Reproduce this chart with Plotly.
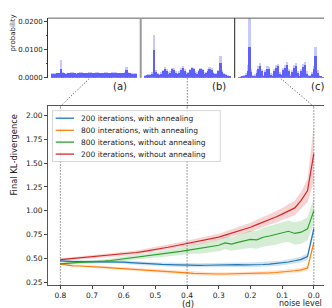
import plotly.graph_objects as go

W, H = 332, 308
def px(x): return x / W
def py(y): return 1 - y / H

FONT = "DejaVu Sans"

# ---------------- data ----------------
noise = [0.80,0.78,0.76,0.74,0.72,0.70,0.68,0.66,0.64,0.62,0.60,0.58,0.56,0.54,0.52,0.50,0.48,0.46,0.44,0.42,
         0.40,0.38,0.36,0.34,0.32,0.30,0.28,0.26,0.24,0.22,0.20,0.18,0.16,0.14,0.12,0.10,0.08,0.06,0.04,0.02,0.00]

blue_mean = [0.473,0.468,0.466,0.466,0.466,0.466,0.465,0.463,0.462,0.461,0.460,0.455,0.450,0.446,0.443,0.440,0.437,0.435,0.432,0.428,
             0.425,0.425,0.426,0.428,0.430,0.432,0.434,0.436,0.434,0.432,0.432,0.434,0.436,0.440,0.446,0.453,0.462,0.475,0.490,0.518,0.810]
blue_spread = [0.012,0.013,0.013,0.014,0.014,0.015,0.015,0.016,0.016,0.017,0.017,0.018,0.018,0.019,0.019,0.020,0.020,0.021,0.021,0.022,
               0.022,0.022,0.023,0.023,0.023,0.024,0.024,0.024,0.024,0.025,0.025,0.025,0.025,0.025,0.026,0.026,0.027,0.028,0.030,0.035,0.050]

orange_mean = [0.440,0.428,0.422,0.420,0.418,0.415,0.410,0.405,0.400,0.395,0.391,0.386,0.382,0.377,0.373,0.370,0.365,0.360,0.355,0.350,
               0.347,0.343,0.340,0.338,0.336,0.336,0.336,0.337,0.338,0.339,0.340,0.342,0.345,0.348,0.352,0.357,0.363,0.370,0.380,0.398,0.666]
orange_spread = [0.012,0.012,0.012,0.013,0.013,0.013,0.014,0.014,0.014,0.015,0.015,0.015,0.016,0.016,0.016,0.017,0.017,0.017,0.018,0.018,
                 0.018,0.018,0.019,0.019,0.019,0.019,0.019,0.019,0.020,0.020,0.020,0.020,0.020,0.020,0.021,0.021,0.022,0.022,0.023,0.025,0.040]

green_mean = [0.443,0.450,0.455,0.458,0.460,0.462,0.466,0.472,0.478,0.486,0.494,0.502,0.510,0.518,0.526,0.535,0.545,0.553,0.562,0.573,
              0.584,0.595,0.600,0.612,0.625,0.638,0.662,0.650,0.668,0.682,0.700,0.695,0.722,0.735,0.752,0.775,0.785,0.762,0.775,0.810,0.999]
green_spread = [0.015,0.015,0.015,0.016,0.016,0.017,0.018,0.019,0.020,0.021,0.022,0.024,0.026,0.028,0.030,0.032,0.034,0.036,0.038,0.040,
                0.042,0.046,0.050,0.054,0.058,0.062,0.066,0.070,0.076,0.082,0.090,0.095,0.100,0.104,0.108,0.110,0.114,0.118,0.120,0.120,0.140]

red_mean = [0.487,0.493,0.498,0.505,0.511,0.518,0.523,0.528,0.533,0.538,0.545,0.553,0.562,0.572,0.582,0.594,0.605,0.617,0.630,0.643,
            0.656,0.668,0.680,0.695,0.708,0.724,0.745,0.765,0.785,0.805,0.827,0.855,0.880,0.910,0.935,0.965,1.000,1.030,1.110,1.210,1.600]
red_spread = [0.015,0.015,0.016,0.016,0.017,0.018,0.018,0.019,0.020,0.020,0.021,0.022,0.022,0.023,0.024,0.025,0.026,0.027,0.028,0.029,
              0.030,0.031,0.032,0.033,0.034,0.035,0.037,0.039,0.041,0.044,0.047,0.050,0.053,0.056,0.060,0.065,0.070,0.078,0.090,0.120,0.300]

series_names = ["200 iterations, with annealing", "800 interations, with annealing",
                "800 iterations, without annealing", "200 iterations, without annealing"]
series_colors = ["#1f77b4", "#ff7f0e", "#2ca02c", "#d62728"]
band_colors = ["rgba(31,119,180,0.2)", "rgba(255,127,14,0.2)", "rgba(44,160,44,0.2)", "rgba(214,39,40,0.2)"]

x_ticks = [0.8, 0.7, 0.6, 0.5, 0.4, 0.3, 0.2, 0.1, 0.0]
x_ticktext = ["0.8", "0.7", "0.6", "0.5", "0.4", "0.3", "0.2", "0.1", "0.0"]
y_ticks = [0.25, 0.50, 0.75, 1.00, 1.25, 1.50, 1.75, 2.00]

# histograms (probability, units of 1e-4), 48 bins per panel
a_dark = [13,14,14,15,16,30,17,15,14,15,16,18,17,15,14,16,18,17,15,15,16,18,17,15,15,17,18,16,15,16,18,17,15,15,17,18,17,15,15,16,16,18,28,17,15,14,14,13]
a_light = [15,16,16,17,18,64,19,17,16,17,18,20,19,17,16,18,20,19,17,17,18,20,19,17,17,19,20,18,17,18,20,19,17,17,19,20,19,17,17,18,18,20,39,19,17,16,16,15]
b_dark = [6,8,9,10,14,99,20,12,10,14,22,32,24,14,18,30,28,18,12,18,28,34,24,14,16,26,33,30,18,14,22,30,26,14,16,24,32,28,16,12,14,22,52,20,12,9,7,5]
b_light = [9,11,12,14,20,152,26,16,14,19,28,38,30,19,23,36,34,23,16,23,34,40,30,19,21,32,39,36,23,19,27,36,32,19,21,30,38,34,21,16,18,28,76,26,16,12,10,7]
c_dark = [1,2,3,5,10,25,110,20,4,6,18,30,42,22,5,20,32,30,10,6,24,34,40,12,8,26,36,44,24,6,20,34,42,16,6,22,38,44,14,4,6,12,30,76,18,6,3,1]
c_light = [2,4,6,9,18,45,215,32,8,12,26,40,52,30,10,28,42,38,16,12,32,44,50,20,14,34,46,54,32,12,28,44,52,24,12,30,48,54,22,8,10,20,42,110,28,10,5,2]
panel_labels = ["(a)", "(b)", "(c)"]
prob_ticks = [0.0, 0.01, 0.02]
prob_ticktext = ["0.0000", "0.0100", "0.0200"]

# ---------------- figure ----------------
fig = go.Figure()

means = [blue_mean, orange_mean, green_mean, red_mean]
spreads = [blue_spread, orange_spread, green_spread, red_spread]
for m, s, bc in zip(means, spreads, band_colors):
    upper = [a + b for a, b in zip(m, s)]
    lower = [a - b for a, b in zip(m, s)]
    fig.add_trace(go.Scatter(x=noise + noise[::-1], y=upper + lower[::-1], fill="toself",
                             fillcolor=bc, line=dict(width=0), mode="lines",
                             hoverinfo="skip", showlegend=False, xaxis="x", yaxis="y"))
for m, c, n in zip(means, series_colors, series_names):
    fig.add_trace(go.Scatter(x=noise, y=m, mode="lines", line=dict(color=c, width=1.2),
                             name=n, showlegend=False, xaxis="x", yaxis="y"))

hists = [(a_light, a_dark), (b_light, b_dark), (c_light, c_dark)]
for i, (lt, dk) in enumerate(hists):
    xa = "x%d" % (i + 2)
    ya = "y%d" % (i + 2)
    bins = list(range(len(lt)))
    fig.add_trace(go.Bar(x=bins, y=[v * 1e-4 for v in lt], marker=dict(color="rgb(200,200,255)", line=dict(width=0)),
                         width=1.0, showlegend=False, xaxis=xa, yaxis=ya))
    fig.add_trace(go.Bar(x=bins, y=[v * 1e-4 for v in dk], marker=dict(color="rgb(95,95,250)", line=dict(width=0)),
                         width=1.0, showlegend=False, xaxis=xa, yaxis=ya))

axis_common = dict(showgrid=False, zeroline=False)
tickfont = dict(family=FONT, size=7.5, color="#222")

layout = dict(
    width=W, height=H, margin=dict(l=0, r=0, t=0, b=0),
    paper_bgcolor="white", plot_bgcolor="rgba(0,0,0,0)",
    showlegend=False, barmode="overlay", bargap=0,
    font=dict(family=FONT, color="#222"),
    xaxis=dict(domain=[px(40), px(318.5)], range=[0.839, -0.040], anchor="y",
               tickvals=x_ticks, ticktext=x_ticktext, ticks="outside", ticklen=2.5, tickwidth=0.8,
               tickcolor="#444", tickfont=tickfont, showline=True, mirror=True,
               linecolor="#555", linewidth=0.8, **axis_common),
    yaxis=dict(domain=[py(281), py(99)], range=[0.216, 2.096], anchor="x",
               tickvals=y_ticks, tickformat=".2f", ticks="outside", ticklen=3, tickwidth=0.8,
               tickcolor="#444", tickfont=tickfont, showline=True, mirror=True,
               linecolor="#555", linewidth=0.8, **axis_common),
)
doms = [(40, 132.7), (133, 226.7), (227, 320)]
for i, (l, r) in enumerate(doms):
    k = i + 2
    layout["xaxis%d" % k] = dict(domain=[px(l), px(r)], range=[-2.3, 49.8], anchor="y%d" % k,
                                 showticklabels=False, ticks="", showline=False, **axis_common)
    yd = dict(domain=[py(70), py(9.3)], range=[0, 0.02105], anchor="x%d" % k, showline=False,
              showticklabels=False, ticks="", **axis_common)
    if i == 0:
        yd.update(showticklabels=True, tickvals=prob_ticks, ticktext=prob_ticktext, ticks="outside",
                  ticklen=3, tickwidth=0.8, tickcolor="#444", tickfont=dict(family=FONT, size=7, color="#222"),
                  showline=True, linecolor="#333", linewidth=0.8,
                  minor=dict(ticks="outside", ticklen=1.5, tickvals=[0.005, 0.015], tickcolor="#444"))
    layout["yaxis%d" % k] = yd
fig.update_layout(**layout)

shapes = []
# top panel frame lines
shapes.append(dict(type="line", xref="paper", yref="paper", x0=px(40), x1=px(320), y0=py(9.3), y1=py(9.3),
                   line=dict(color="#333", width=0.8)))
shapes.append(dict(type="line", xref="paper", yref="paper", x0=px(132.7), x1=px(132.7), y0=py(70), y1=py(9.3),
                   line=dict(color="#999", width=2)))
shapes.append(dict(type="line", xref="paper", yref="paper", x0=px(226.7), x1=px(226.7), y0=py(70), y1=py(9.3),
                   line=dict(color="#222", width=1)))
shapes.append(dict(type="line", xref="paper", yref="paper", x0=px(320), x1=px(320), y0=py(70), y1=py(9.3),
                   line=dict(color="#999", width=2)))
# dotted connectors
dot = dict(color="#444", width=1, dash="1px,2px")
for xv in [0.8, 0.4, 0.0]:
    shapes.append(dict(type="line", xref="x", yref="paper", x0=xv, x1=xv, y0=py(281), y1=py(99), line=dot))
shapes.append(dict(type="line", xref="paper", yref="paper", x0=px(52.3), x1=px(82), y0=py(99), y1=py(70), line=dot))
shapes.append(dict(type="line", xref="paper", yref="paper", x0=px(179.3), x1=px(179.3), y0=py(99), y1=py(70), line=dot))
shapes.append(dict(type="line", xref="paper", yref="paper", x0=px(305.7), x1=px(272), y0=py(99), y1=py(70), line=dot))
# legend box
shapes.append(dict(type="rect", xref="paper", yref="paper", x0=px(44.5), x1=px(212.3), y0=py(155), y1=py(103.3),
                   fillcolor="rgba(255,255,255,0.85)", line=dict(color="#ccc", width=0.8), layer="above"))
leg_y = [111, 123.3, 135.3, 147.5]
annotations = []
for yy, c, n in zip(leg_y, series_colors, series_names):
    shapes.append(dict(type="line", xref="paper", yref="paper", x0=px(47.7), x1=px(66), y0=py(yy), y1=py(yy),
                       line=dict(color=c, width=1.3), layer="above"))
    annotations.append(dict(text=n, xref="paper", yref="paper", x=px(70.5), y=py(yy), xanchor="left",
                            yanchor="middle", showarrow=False, font=dict(family=FONT, size=7.5, color="#222")))
fig.update_layout(shapes=shapes)

annotations += [
    dict(text="Final KL-divergence", x=px(6), y=py(148), textangle=-90, font=dict(family=FONT, size=8.4, color="#222")),
    dict(text="probability", x=px(5), y=py(25), textangle=-90, font=dict(family=FONT, size=7, color="#222")),
    dict(text="noise level", x=px(292.5), y=py(299.5)),
    dict(text="(d)", x=px(180), y=py(300), borderpad=0, font=dict(family=FONT, size=8.5, color="#222")),
]
for lab, xx in zip(panel_labels, [111.7, 210.8, 309]):
    annotations.append(dict(text=lab, x=px(xx), y=py(79), font=dict(family=FONT, size=10, color="#222")))
for a in annotations:
    a.setdefault("xref", "paper")
    a.setdefault("yref", "paper")
    a.setdefault("showarrow", False)
    a.setdefault("xanchor", "center")
    a.setdefault("yanchor", "middle")
    a.setdefault("font", dict(family=FONT, size=8, color="#222"))
fig.update_layout(annotations=annotations)

fig.write_html("out.html")
